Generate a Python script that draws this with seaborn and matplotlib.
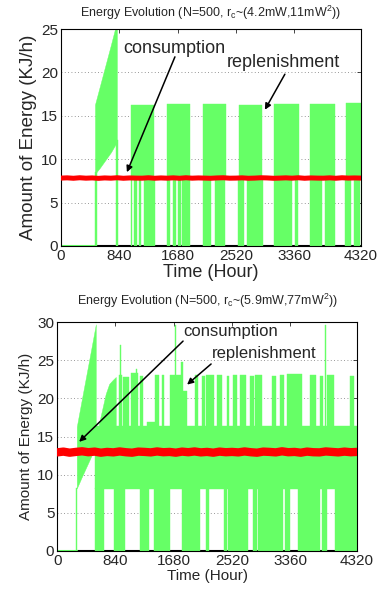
import matplotlib
matplotlib.use("Agg")
import matplotlib.pyplot as plt
import seaborn as sns
import pandas as pd

# x axis (hours)
x_ticks = [0, 840, 1680, 2520, 3360, 4320]

# ---------------- top panel ----------------
top_title = "Energy Evolution (N=500, r$_\\mathregular{c}$~(4.2mW,11mW$^\\mathregular{2}$))"
top_yticks = [0, 5, 10, 15, 20, 25]
# start-up ramp of the replenishment envelope
top_ramp_t = [490, 560, 640, 720, 778, 806]
top_ramp_hi = [16.3, 18.4, 20.8, 23.2, 25.0, 25.8]
top_ramp_lo = [8.3, 9.0, 9.9, 10.8, 11.6, 12.0]
# periodic replenishment blocks (start, end, top)
top_blocks = [(1008, 1339, 16.3), (1526, 1858, 16.4), (2045, 2376, 16.4), (2563, 2894, 16.3),
              (3067, 3427, 16.4), (3586, 3946, 16.4), (4104, 4320, 16.5)]
# replenishment reaching down to zero (start, end, top)
top_low = [(485, 523, 8.5), (797, 821, 12.2), (1003, 1022, 8), (1051, 1094, 8), (1123, 1157, 8),
           (1195, 1349, 8), (1531, 1574, 8), (1613, 1651, 8), (1685, 1723, 8), (1742, 1853, 8),
           (2045, 2155, 8), (2213, 2366, 8), (2549, 2635, 8), (2683, 2909, 8), (3067, 3326, 8),
           (3374, 3422, 8), (3586, 3758, 8), (3797, 3950, 8), (4094, 4181, 8), (4219, 4306, 8)]
top_idle_end = 485
top_cons = [7.82, 7.85, 7.80, 7.86, 7.81, 7.84, 7.79,
            7.84, 7.81, 7.86, 7.80, 7.84, 7.82, 7.81,
            7.86, 7.80, 7.84, 7.81, 7.85, 7.80, 7.86,
            7.81, 7.84, 7.82, 7.80, 7.84, 7.86, 7.81,
            7.82, 7.85, 7.80, 7.82, 7.86, 7.84, 7.80,
            7.82, 7.85, 7.81, 7.86, 7.80, 7.84, 7.82,
            7.81, 7.85, 7.80, 7.86, 7.82, 7.84, 7.82]

# ---------------- bottom panel ----------------
bot_title = "Energy Evolution (N=500, r$_\\mathregular{c}$~(5.9mW,77mW$^\\mathregular{2}$))"
bot_yticks = [0, 5, 10, 15, 20, 25, 30]
bot_ramp_t = [283, 350, 420, 490, 557]
bot_ramp_hi = [16.3, 19.6, 23.0, 26.4, 29.7]
bot_ramp_lo = [8.2, 9.6, 11.0, 12.4, 13.7]
bot_hump_t = [600, 650, 700, 750, 800, 845]
bot_hump_hi = [16.6, 18.6, 20.6, 21.9, 22.4, 22.8]
bot_band = (547, 4320, 8.1, 16.4)
bot_idle_end = 283
# spans where the replenishment does not drop below ~8
bot_gaps = [(290, 547), (681, 826), (979, 1195), (1320, 1395), (1627, 1800), (2060, 2140),
            (2190, 2410), (2450, 2462), (2745, 2815), (2875, 2900), (3250, 3280), (3355, 3470),
            (3785, 3815), (3890, 4010)]
# peaks above the band (start, end, top)
bot_peaks = [(890, 935, 23.0), (905, 918, 27.0), (955, 1037, 22.8), (1066, 1171, 23.3),
             (1130, 1150, 23.9), (1195, 1234, 22.9), (1300, 1450, 16.9), (1411, 1469, 23.0),
             (1507, 1545, 23.0), (1627, 1790, 23.0), (1702, 1716, 29.6), (1790, 1820, 24.7),
             (1820, 1867, 21.0), (1987, 2035, 23.0), (2083, 2131, 22.9), (2150, 2260, 23.1),
             (2300, 2371, 23.0), (2443, 2480, 22.9), (2534, 2592, 23.0), (2640, 2720, 23.1),
             (2780, 2840, 22.9), (2851, 2945, 23.0), (3091, 3149, 22.9), (3211, 3273, 23.0),
             (3307, 3523, 23.2), (3643, 3725, 23.0), (3787, 3835, 22.9), (3864, 3878, 29.6),
             (3883, 3995, 23.0), (4219, 4277, 22.9)]
bot_cons = [12.92, 13.02, 12.88, 12.98, 13.06, 12.94, 13.02,
            12.88, 12.98, 12.92, 13.04, 12.94, 12.88, 13.02,
            12.98, 12.92, 13.04, 12.94, 12.98, 12.88, 13.02,
            12.94, 13.04, 12.92, 12.98, 12.88, 13.02, 12.94,
            12.98, 12.92, 13.04, 12.94, 12.88, 13.02, 12.98,
            12.92, 13.06, 12.94, 12.98, 12.88, 13.02, 12.94,
            12.92, 13.04, 12.98, 12.92, 13.02, 12.94, 12.98]

cons_t = list(range(0, 4321, 90))  # sampling of the consumption trace

GREEN = "#66ff66"
RED = "#ff0000"

sns.set_style("white")
plt.rcParams["font.family"] = ["Liberation Sans", "DejaVu Sans"]
plt.rcParams["mathtext.fontset"] = "custom"
plt.rcParams["mathtext.rm"] = "Liberation Sans"
plt.rcParams["mathtext.default"] = "regular"


def fill(ax, x, lo, hi):
    ax.fill_between(x, lo, hi, color=GREEN, linewidth=0.3, edgecolor=GREEN, zorder=2)


def style(ax, yticks, title, lab_fs, title_pad):
    ax.set_xlim(0, 4320)
    ax.set_ylim(yticks[0], yticks[-1])
    ax.set_xticks(x_ticks)
    ax.set_yticks(yticks)
    ax.tick_params(direction="in", length=3, width=0.6, top=True, right=True,
                   labelsize=11, pad=2)
    ax.yaxis.grid(True, linestyle=(0, (1, 3)), color="#777777", linewidth=0.6)
    ax.set_axisbelow(True)
    for s in ax.spines.values():
        s.set_color("black")
        s.set_linewidth(0.8)
    ax.set_title(title, fontsize=9, pad=title_pad)
    ax.set_xlabel("Time (Hour)", fontsize=lab_fs[0], labelpad=1)
    ax.set_ylabel("Amount of Energy (KJ/h)", fontsize=lab_fs[1], labelpad=3)


fig = plt.figure(figsize=(3.81, 5.94), dpi=100)
ax1 = fig.add_axes([0.160, 0.586, 0.787, 0.365])
ax2 = fig.add_axes([0.150, 0.0724, 0.787, 0.3855])

# ---- top ----
ax1.plot([top_idle_end, 4320], [0, 0], color="black", lw=1.5, zorder=1)
ax1.plot([0, top_idle_end], [0, 0], color=GREEN, lw=1.5, zorder=2)
fill(ax1, top_ramp_t, top_ramp_lo, top_ramp_hi)
for s, e, h in top_blocks:
    fill(ax1, [s, e], 7.8, h)
for s, e, h in top_low:
    fill(ax1, [s, e], 0, h)
df_top = pd.DataFrame({"t": cons_t, "e": top_cons})
sns.lineplot(data=df_top, x="t", y="e", ax=ax1, color=RED, lw=3.6, zorder=3)
style(ax1, top_yticks, top_title, (13, 13.5), 9)
ax1.text(893, 22.8, "consumption", fontsize=13, va="center")
ax1.text(2390, 21.1, "replenishment", fontsize=13, va="center")
arrow = dict(arrowstyle="-|>", color="black", lw=1.1, mutation_scale=9, shrinkA=0, shrinkB=0)
ax1.annotate("", xy=(950, 8.5), xytext=(1642, 21.8), arrowprops=arrow, zorder=4)
ax1.annotate("", xy=(2938, 15.7), xytext=(3226, 19.8), arrowprops=arrow, zorder=4)

# ---- bottom ----
ax2.plot([bot_idle_end, 4320], [0, 0], color="black", lw=1.5, zorder=1)
ax2.plot([0, bot_idle_end], [0, 0], color=GREEN, lw=1.5, zorder=2)
fill(ax2, bot_ramp_t, bot_ramp_lo, bot_ramp_hi)
fill(ax2, bot_hump_t, 16.0, bot_hump_hi)
b0, b1, blo, bhi = bot_band
fill(ax2, [b0, b1], blo, bhi)
# low parts: everything from the idle end that is not a gap
cur = bot_idle_end - 5
for s, e in bot_gaps:
    if s > cur:
        fill(ax2, [cur, s], 0, blo + 0.1)
    cur = e
fill(ax2, [cur, 4320], 0, blo + 0.1)
for s, e, h in bot_peaks:
    fill(ax2, [s, e], 16.0, h)
df_bot = pd.DataFrame({"t": cons_t, "e": bot_cons})
sns.lineplot(data=df_bot, x="t", y="e", ax=ax2, color=RED, lw=6, zorder=3)
style(ax2, bot_yticks, bot_title, (11, 11), 12)
ax2.text(1814, 28.7, "consumption", fontsize=12, va="center")
ax2.text(2232, 25.9, "replenishment", fontsize=12, va="center")
ax2.annotate("", xy=(317, 14.3), xytext=(1814, 27.5), arrowprops=arrow, zorder=4)
ax2.annotate("", xy=(1872, 21.8), xytext=(2218, 24.5), arrowprops=arrow, zorder=4)

fig.savefig("out.png", dpi=100)
